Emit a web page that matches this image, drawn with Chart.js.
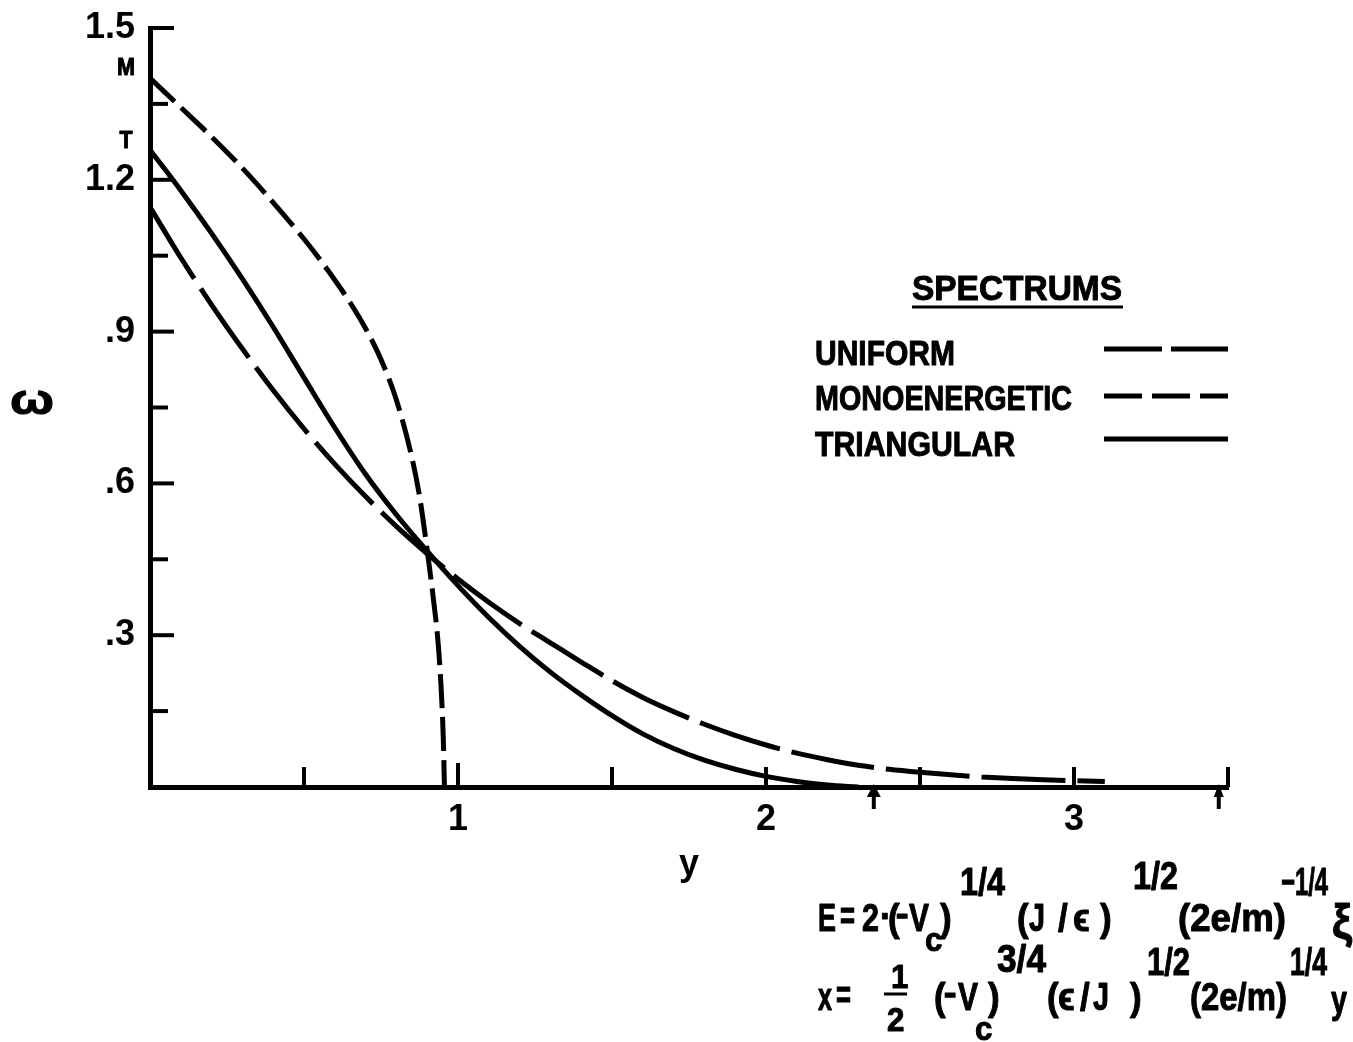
<!DOCTYPE html>
<html><head><meta charset="utf-8">
<script src="https://cdn.jsdelivr.net/npm/chart.js@4.4.1/dist/chart.umd.min.js"></script>
<style>html,body{margin:0;padding:0;background:#fff;} canvas{display:block;}</style>
</head><body>
<canvas id="c" width="1353" height="1042"></canvas>
<script>
const FONT = "'Liberation Sans', Arial, sans-serif";

// ---- data ----
const seriesNames = ['UNIFORM', 'MONOENERGETIC', 'TRIANGULAR'];

const uniformX = [0, 0.1, 0.2, 0.3, 0.4, 0.5, 0.6, 0.7, 0.8, 0.9, 1.0, 1.1, 1.2, 1.3, 1.4, 1.5, 1.6, 1.7, 1.8, 1.9, 2.0, 2.1, 2.2, 2.3, 2.4, 2.5, 2.6, 2.7, 2.8, 2.9, 3.0, 3.1];
const uniformY = [1.146, 1.046, 0.953, 0.866, 0.784, 0.708, 0.638, 0.574, 0.515, 0.461, 0.411, 0.365, 0.323, 0.285, 0.247, 0.21, 0.177, 0.149, 0.124, 0.102, 0.083, 0.067, 0.054, 0.043, 0.035, 0.029, 0.024, 0.02, 0.017, 0.0145, 0.0125, 0.011];

const monoX = [0, 0.1, 0.2, 0.3, 0.4, 0.5, 0.55, 0.6, 0.65, 0.7, 0.75, 0.8, 0.85, 0.875, 0.9, 0.92, 0.935, 0.945, 0.952, 0.956];
const monoY = [1.401, 1.343, 1.285, 1.223, 1.155, 1.083, 1.044, 1.002, 0.957, 0.906, 0.845, 0.765, 0.652, 0.575, 0.468, 0.372, 0.288, 0.198, 0.1, 0];

const triX = [0, 0.1, 0.2, 0.3, 0.4, 0.5, 0.6, 0.7, 0.8, 0.9, 1.0, 1.1, 1.2, 1.3, 1.4, 1.5, 1.6, 1.7, 1.8, 1.9, 2.0, 2.1, 2.2, 2.3];
const triY = [1.259, 1.179, 1.094, 1.004, 0.909, 0.809, 0.71, 0.618, 0.538, 0.466, 0.398, 0.335, 0.278, 0.227, 0.182, 0.141, 0.105, 0.076, 0.053, 0.035, 0.021, 0.011, 0.004, 0];

const xTickLabels = {1: '1', 2: '2', 3: '3'};
const yTickLabels = {30: '.3', 60: '.6', 90: '.9', 120: '1.2', 150: '1.5'};
const yEndLabels = [{text: 'M', value: 1.425}, {text: 'T', value: 1.28}];
const xArrowMarks = [2.35, 3.47];
const yAxisTitle = 'ω';
const xAxisTitle = 'y';
const legendTitle = 'SPECTRUMS';

function pts(xs, ys) { return xs.map((v, i) => ({x: v, y: ys[i]})); }

const dashes = { UNIFORM: [84, 12], MONOENERGETIC: [34, 9], TRIANGULAR: [] };
const legendDashes = { UNIFORM: [58, 9], MONOENERGETIC: [38, 10], TRIANGULAR: [] };

const datasets = [
  {label: seriesNames[0], data: pts(uniformX, uniformY), borderDash: dashes.UNIFORM},
  {label: seriesNames[1], data: pts(monoX, monoY), borderDash: dashes.MONOENERGETIC},
  {label: seriesNames[2], data: pts(triX, triY), borderDash: dashes.TRIANGULAR}
].map(d => Object.assign(d, {
  borderColor: '#000', borderWidth: 5, pointRadius: 0, fill: false,
  cubicInterpolationMode: 'monotone', borderCapStyle: 'butt'
}));

function yLabel(v) { const k = Math.round(v * 100); return yTickLabels[k] || ''; }

// draw condensed heavy text (scaled horizontally)
function ntext(ctx, text, x, base, size, width, align) {
  ctx.save();
  ctx.font = 'bold ' + size + 'px ' + FONT;
  ctx.textAlign = 'left'; ctx.textBaseline = 'alphabetic';
  const w = ctx.measureText(text).width;
  const s = width ? width / w : 0.92;
  let x0 = x;
  if (align === 'center') x0 = x - w * s / 2;
  ctx.translate(x0, base); ctx.scale(s, 1);
  ctx.fillText(text, 0, 0);
  ctx.lineWidth = 1; ctx.lineJoin = 'round';
  ctx.strokeText(text, 0, 0);
  ctx.restore();
  return w * s;
}

const formulaTokens = [
  // text, x, baseline, size, width
  ['E', 818, 931, 38, 18], ['=', 840, 929, 38, 15], ['2', 862, 931, 38, 17], ['·', 880, 929, 38], ['(', 888, 931, 38],
  ['−', 896, 929, 38, 12], ['V', 909, 931, 38, 20], ['c', 925, 951, 34], [')', 940, 931, 38],
  ['1/4', 960, 895, 38, 45], ['(', 1017, 931, 38], ['J', 1029, 931, 38, 16], ['/', 1058, 931, 38], ['ϵ', 1073, 931, 38], [')', 1100, 931, 38],
  ['1/2', 1133, 889, 38, 45], ['(2e/m)', 1178, 931, 38, 108], ['−1/4', 1281, 895, 38, 47], ['ξ', 1332, 938, 48, 20],
  ['x', 818, 1010, 38, 14], ['=', 836, 1008, 38, 15], ['1', 891, 988, 34], ['2', 887, 1031, 34],
  ['(', 934, 1010, 38], ['−', 944, 1008, 38, 12], ['V', 958, 1010, 38, 20], ['c', 975, 1040, 34], [')', 988, 1010, 38],
  ['3/4', 997, 972, 38, 49], ['(', 1047, 1010, 38], ['ϵ', 1058, 1010, 38], ['/', 1080, 1010, 38], ['J', 1093, 1010, 38, 16], [')', 1130, 1010, 38],
  ['1/2', 1147, 975, 38, 43], ['(2e/m)', 1190, 1010, 38, 97], ['1/4', 1290, 975, 38, 37], ['y', 1331, 1013, 38, 16]
];

const decorPlugin = {
  id: 'decor',
  afterDraw(chart) {
    const {ctx, chartArea: a, scales: {x, y}} = chart;
    ctx.save();
    ctx.strokeStyle = '#000'; ctx.fillStyle = '#000';
    // inward tick marks
    ctx.lineWidth = 4;
    y.ticks.forEach(t => {
      if (t.value <= 0.001) return;
      const py = y.getPixelForValue(t.value);
      const len = yLabel(t.value) ? 24 : 18;
      ctx.beginPath(); ctx.moveTo(a.left, py); ctx.lineTo(a.left + len, py); ctx.stroke();
    });
    x.ticks.forEach(t => {
      if (t.value <= 0.001) return;
      const px = x.getPixelForValue(t.value);
      const len = Math.abs(t.value - 1) < 0.01 ? 24 : 20;
      ctx.beginPath(); ctx.moveTo(px, a.bottom); ctx.lineTo(px, a.bottom - len); ctx.stroke();
    });
    // arrow marks under axis
    xArrowMarks.forEach((v, i) => {
      const px = x.getPixelForValue(v);
      const hw = i === 0 ? 7 : 5;
      ctx.lineWidth = 4;
      ctx.beginPath(); ctx.moveTo(px, a.bottom + 4); ctx.lineTo(px, a.bottom + 22); ctx.stroke();
      ctx.beginPath(); ctx.moveTo(px, a.bottom - 3); ctx.lineTo(px - hw, a.bottom + 10); ctx.lineTo(px + hw, a.bottom + 10); ctx.closePath(); ctx.fill();
    });
    // M / T labels
    yEndLabels.forEach(l => ntext(ctx, l.text, a.left - 24, y.getPixelForValue(l.value) + 9, 24, l.text === 'M' ? 18 : 13, 'center'));
    // y axis title (omega)
    ntext(ctx, yAxisTitle, 32, y.getPixelForValue(0.76) + 12, 42, 44, 'center');

    // legend
    ntext(ctx, legendTitle, 1017, 300, 35, 210, 'center');
    ctx.lineWidth = 3;
    ctx.beginPath(); ctx.moveTo(912, 307); ctx.lineTo(1123, 307); ctx.stroke();
    const rowBase = [365, 410, 456];
    const rowLine = [349, 396, 439];
    const rowWidth = [140, 257, 200];
    seriesNames.forEach((n, i) => {
      ntext(ctx, n, 815, rowBase[i], 35, rowWidth[i]);
      ctx.lineWidth = 5; ctx.setLineDash(legendDashes[n]);
      ctx.beginPath(); ctx.moveTo(1104, rowLine[i]); ctx.lineTo(1228, rowLine[i]); ctx.stroke();
      ctx.setLineDash([]);
    });

    // formulas
    formulaTokens.forEach(p => ntext(ctx, p[0], p[1], p[2], p[3], p[4] || null));
    ctx.lineWidth = 3;
    ctx.beginPath(); ctx.moveTo(884, 994); ctx.lineTo(907, 994); ctx.stroke();
    ctx.restore();
  }
};

new Chart(document.getElementById('c'), {
  type: 'line',
  data: {datasets},
  options: {
    responsive: false,
    animation: false,
    layout: {padding: {top: 28, left: 0, right: 125, bottom: 155}},
    plugins: {legend: {display: false}, tooltip: {enabled: false}},
    scales: {
      x: {
        type: 'linear', min: 0, max: 3.5,
        afterFit(s) { s.height = 100; },
        grid: {display: false, drawTicks: false},
        border: {display: true, color: '#000', width: 5},
        ticks: {
          stepSize: 0.5, autoSkip: false, maxRotation: 0, padding: 11, color: '#000',
          font: {family: FONT, size: 36, weight: 'bold'},
          callback: v => xTickLabels[Math.round(v * 10) / 10] || ''
        },
        title: {display: true, text: xAxisTitle, color: '#000', padding: 0,
                font: {family: FONT, size: 36, weight: 'bold'}}
      },
      y: {
        type: 'linear', min: 0, max: 1.5,
        afterFit(s) { s.width = 150; s.paddingTop = 0; s.paddingBottom = 0; },
        grid: {display: false, drawTicks: false},
        border: {display: true, color: '#000', width: 5},
        ticks: {
          stepSize: 0.15, autoSkip: false, padding: 15, color: '#000',
          font: {family: FONT, size: 36, weight: 'bold'},
          callback: v => yLabel(v)
        }
      }
    }
  },
  plugins: [decorPlugin]
});
</script>
</body></html>
